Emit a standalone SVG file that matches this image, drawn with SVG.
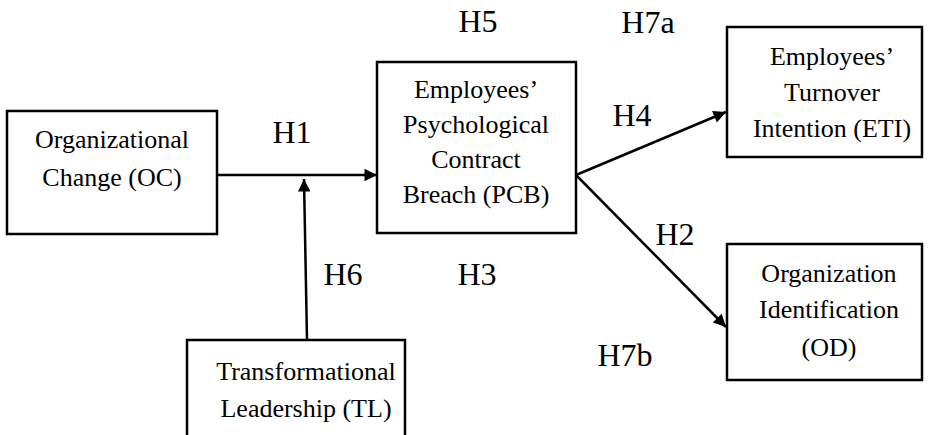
<svg xmlns="http://www.w3.org/2000/svg" width="929" height="435" viewBox="0 0 929 435">
<defs>
<style>
.box{fill:#fff;stroke:#000;stroke-width:2.5}
.t{font-family:"Liberation Serif","DejaVu Serif",serif;font-size:26px;fill:#000;text-anchor:middle}
.h{font-family:"Liberation Serif","DejaVu Serif",serif;font-size:32px;fill:#000;text-anchor:middle}
.c{stroke:#000;stroke-width:2.5;fill:none;marker-end:url(#ah)}
</style>
<marker id="ah" viewBox="0 0 10 10" refX="10" refY="5" markerWidth="6" markerHeight="5" markerUnits="strokeWidth" orient="auto">
<path d="M0,0 L10,5 L0,10 z" fill="#000"/>
</marker>
</defs>
<rect width="929" height="435" fill="#fff"/>
<g id="connectors">
<line class="c" x1="217" y1="175" x2="377" y2="175"/>
<line class="c" x1="307" y1="340" x2="304" y2="179"/>
<line class="c" x1="576" y1="175" x2="726" y2="112"/>
<line class="c" x1="576" y1="175" x2="726" y2="327"/>
</g>
<g id="OC">
<rect class="box" x="7" y="111" width="210" height="123"/>
<text class="t" x="112" y="148">Organizational</text>
<text class="t" x="112" y="186">Change (OC)</text>
</g>
<g id="PCB">
<rect class="box" x="377" y="62" width="199" height="171"/>
<text class="t" x="476" y="98">Employees’</text>
<text class="t" x="476" y="133">Psychological</text>
<text class="t" x="476" y="168">Contract</text>
<text class="t" x="476" y="203">Breach (PCB)</text>
</g>
<g id="ETI">
<rect class="box" x="727" y="27" width="195" height="130"/>
<text class="t" x="832" y="65">Employees’</text>
<text class="t" x="832" y="101">Turnover</text>
<text class="t" x="832" y="137">Intention (ETI)</text>
</g>
<g id="OD">
<rect class="box" x="727" y="244" width="195" height="136"/>
<text class="t" x="829" y="282">Organization</text>
<text class="t" x="829" y="318">Identification</text>
<text class="t" x="829" y="356">(OD)</text>
</g>
<g id="TL">
<rect class="box" x="187" y="340" width="218" height="110"/>
<text class="t" x="306" y="380">Transformational</text>
<text class="t" x="306" y="417">Leadership (TL)</text>
</g>
<g id="labels">
<text class="h" x="478" y="32">H5</text>
<text class="h" x="648" y="33">H7a</text>
<text class="h" x="292" y="143">H1</text>
<text class="h" x="632" y="126">H4</text>
<text class="h" x="675" y="245">H2</text>
<text class="h" x="343" y="285">H6</text>
<text class="h" x="477" y="285">H3</text>
<text class="h" x="625" y="366">H7b</text>
</g>
</svg>
